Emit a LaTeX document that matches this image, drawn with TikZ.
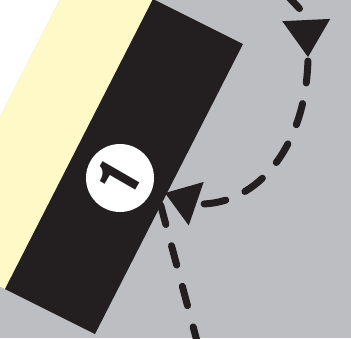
\documentclass[tikz,border=0pt]{standalone}
\usepackage{fontspec}
\setmainfont{TeX Gyre Heros}
\usetikzlibrary{arrows.meta}
\definecolor{bggray}{RGB}{189,190,193}
\definecolor{paleyellow}{RGB}{255,249,200}
\definecolor{inkblack}{RGB}{35,31,32}
\begin{document}
\begin{tikzpicture}[x=1pt,y=-1pt,
  flow/.style={draw=inkblack, line width=7pt, line cap=round, dash pattern=on 22pt off 21pt},
  badgestyle/.style={circle, fill=white, minimum size=68pt, inner sep=0pt},
  numstyle/.style={font=\fontsize{60}{60}\selectfont\bfseries, text=inkblack, rotate=60, inner sep=0pt}]
\clip (0,0) rectangle (351,338);
\fill[bggray] (0,0) rectangle (351,338);
\fill[white] (-69,252) -- (102,-83) -- (-200,-83) -- (-200,252) -- cycle;
\fill[paleyellow] (5,289) -- (176,-46) -- (102,-83) -- (-69,252) -- cycle;
\fill[inkblack] (153,-1) -- (243,44) -- (95,334) -- (5,289) -- cycle;
\node[badgestyle] (badge) at (120,178) {};
\node[numstyle] (num) at ([shift={(-2,-1)}]badge.center) {1};
\coordinate (aStart) at (276,-16);
\coordinate (aCtrl) at (306,15);
\coordinate (tipA) at (308,57);
\coordinate (bC1) at (307,145);
\coordinate (bC2) at (258,206);
\coordinate (bEnd) at (197,204);
\coordinate (tipB) at (165,193);
\coordinate (cTop) at (158,195);
\coordinate (cBot) at (198,345);
\draw[flow, dash phase=31pt, -{Triangle[length=37pt,width=48pt,line width=0pt]}] (aStart) .. controls (aCtrl) .. (tipA);
\draw[flow, dash phase=39pt, -{Triangle[length=33pt,width=46pt,line width=0pt]}] (tipA) .. controls (bC1) and (bC2) .. (bEnd) -- (tipB);
\draw[flow, dash pattern=on 20pt off 22pt, dash phase=31.5pt] (cTop) -- (cBot);
\end{tikzpicture}
\end{document}
